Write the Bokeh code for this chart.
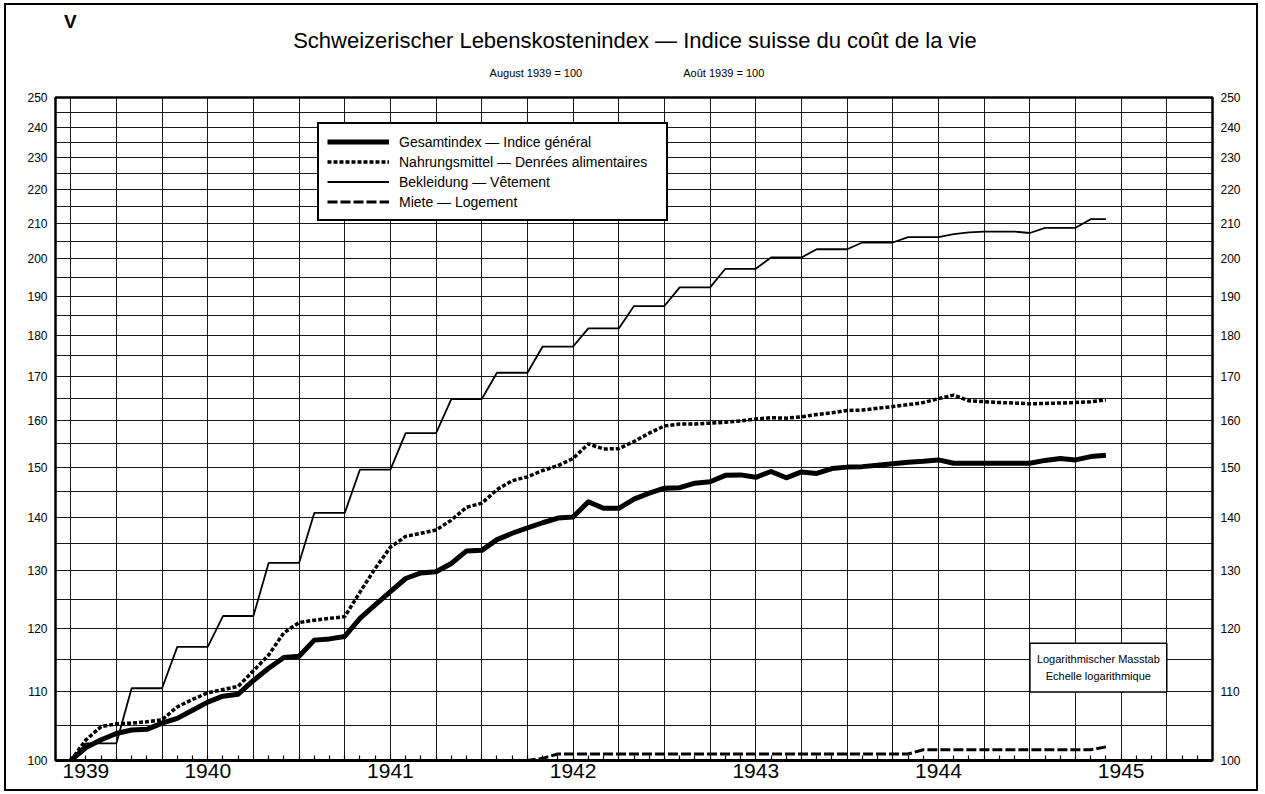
from bokeh.plotting import figure
from bokeh.layouts import column
from bokeh.models import (Range1d, FixedTicker, LogAxis, Legend, LegendItem, Label,
                          PrintfTickFormatter, ColumnDataSource)
from bokeh.core.properties import value
from bokeh.embed import file_html
from bokeh.resources import INLINE

# ---------------- data (monthly, August 1939 = 100) ----------------
months = [f"{1939 + (7 + i) // 12}-{(7 + i) % 12 + 1:02d}" for i in range(69)]  # 1939-08 .. 1945-04

gesamt = [100.0, 101.8, 102.9, 103.8, 104.3, 104.4, 105.3, 106.0, 107.2, 108.4,
          109.3, 109.6, 111.7, 113.6, 115.3, 115.5, 118.1, 118.3, 118.7, 121.7,
          124.0, 126.3, 128.6, 129.6, 129.8, 131.3, 133.6, 133.7, 135.7, 136.9,
          137.9, 138.9, 139.8, 140.0, 143.0, 141.7, 141.7, 143.5, 144.7, 145.7,
          145.8, 146.7, 147.0, 148.3, 148.4, 147.9, 149.1, 147.8, 149.0, 148.7,
          149.7, 150.0, 150.1, 150.4, 150.7, 151.0, 151.2, 151.5, 150.8, 150.8,
          150.8, 150.8, 150.8, 150.8, 151.4, 151.8, 151.5, 152.2, 152.5]

nahrung = [100.0, 102.9, 104.8, 105.2, 105.3, 105.5, 105.8, 107.7, 108.8, 109.8,
           110.3, 110.8, 113.2, 115.7, 119.3, 121.0, 121.4, 121.7, 122.0, 126.2,
           130.4, 134.3, 136.3, 136.9, 137.5, 139.4, 141.9, 142.7, 145.4, 147.2,
           148.0, 149.3, 150.3, 151.8, 154.9, 153.8, 153.9, 155.4, 157.2, 158.8,
           159.2, 159.2, 159.4, 159.6, 159.9, 160.3, 160.6, 160.5, 160.8, 161.3,
           161.7, 162.2, 162.3, 162.7, 163.1, 163.5, 164.0, 164.9, 165.7, 164.4,
           164.2, 164.0, 163.9, 163.7, 163.8, 163.9, 164.0, 164.2, 164.6]

bekleidung = [100.0, 102.4, 102.4, 102.4, 110.5, 110.5, 110.5, 117.0, 117.0, 117.0,
              122.1, 122.1, 122.1, 131.4, 131.4, 131.4, 140.8, 140.8, 140.8, 149.5,
              149.5, 149.5, 157.2, 157.2, 157.2, 164.8, 164.8, 164.8, 170.9, 170.9,
              170.9, 177.2, 177.2, 177.2, 181.7, 181.7, 181.7, 187.4, 187.4, 187.4,
              192.3, 192.3, 192.3, 197.3, 197.3, 197.3, 200.4, 200.4, 200.4, 202.7,
              202.7, 202.7, 204.6, 204.6, 204.6, 206.1, 206.1, 206.1, 207.0, 207.5,
              207.7, 207.7, 207.7, 207.3, 208.8, 208.8, 208.8, 211.3, 211.3]

miete = [100.0] * 31 + [100.3] + [100.9] * 24 + [101.5] * 12 + [101.9]

year_labels = ["1939", "1940", "1941", "1942", "1943", "1944", "1945"]
year_label_pos = [1, 9, 21, 33, 45, 57, 69]
y_tick_values = list(range(100, 251, 10))

series_names = ["Gesamtindex — Indice général",
                "Nahrungsmittel — Denrées alimentaires",
                "Bekleidung — Vêtement",
                "Miete — Logement"]

title_text = "Schweizerischer Lebenskostenindex — Indice suisse du coût de la vie"
subtitle_de = "August 1939 = 100"
subtitle_fr = "Août 1939 = 100"
chart_number = "V"
scale_note = "Logarithmischer Masstab\nEchelle logarithmique"

FONT = "Liberation Sans"
W = 1250

# ---------------- header (title block) ----------------
HH = 80
header = figure(width=W, height=HH, x_range=Range1d(0, W), y_range=Range1d(HH, 0),
                x_axis_type=None, y_axis_type=None, output_backend="svg",
                toolbar_location=None, min_border=0, outline_line_color=None,
                background_fill_color="white", border_fill_color="white")
header.grid.visible = False
header.text(x=[626], y=[35], text=[title_text], text_font=value(FONT),
            text_font_size="22px", text_align="center", text_baseline="middle",
            text_color="black")
header.text(x=[16], y=[16], text=[chart_number], text_font=value(FONT),
            text_font_size="19px", text_font_style="bold", text_align="center",
            text_baseline="middle", text_color="black")
header.text(x=[519, 722], y=[67, 67], text=[subtitle_de, subtitle_fr], text_font=value(FONT),
            text_font_size="11px", text_align="center", text_baseline="middle",
            text_color="black")

# ---------------- main chart ----------------
x = list(range(len(months)))
src = ColumnDataSource(dict(x=x, month=months, gesamt=gesamt, nahrung=nahrung,
                            bekleidung=bekleidung, miete=miete))

p = figure(width=W, height=704, x_range=Range1d(-1, 75), y_range=Range1d(100, 250),
           y_axis_type="log", output_backend="svg", toolbar_location=None,
           min_border_left=49, min_border_right=44, min_border_top=12, min_border_bottom=29,
           background_fill_color="white", border_fill_color="white")
p.outline_line_color = "black"
p.outline_line_width = 2.5

# grids
p.xgrid.ticker = FixedTicker(ticks=list(range(0, 73, 3)))
p.ygrid.ticker = FixedTicker(ticks=list(range(105, 250, 5)))
for g in (p.xgrid, p.ygrid):
    g.grid_line_color = "black"
    g.grid_line_width = 1
    g.grid_line_alpha = 0.9

# x axis: year labels + monthly ticks
xa = p.xaxis[0]
xa.ticker = FixedTicker(ticks=year_label_pos, minor_ticks=list(range(0, 75)))
xa.major_label_overrides = {pos: lab for pos, lab in zip(year_label_pos, year_labels)}
xa.major_tick_in = 0
xa.major_tick_out = 0
xa.minor_tick_in = 5
xa.minor_tick_out = 0
xa.minor_tick_line_width = 1.2
xa.axis_line_width = 3
xa.major_label_text_font = FONT
xa.major_label_text_font_size = "21px"
xa.major_label_text_color = "black"
xa.major_label_standoff = 3

# y axes (left and right)
ya = p.yaxis[0]
ra = LogAxis()
p.add_layout(ra, "right")
for ax in (ya, ra):
    ax.ticker = FixedTicker(ticks=y_tick_values)
    ax.formatter = PrintfTickFormatter(format="%d")
    ax.major_tick_in = 0
    ax.major_tick_out = 0
    ax.minor_tick_in = 0
    ax.minor_tick_out = 0
    ax.axis_line_color = None
    ax.major_label_text_font = FONT
    ax.major_label_text_font_size = "12px"
    ax.major_label_text_color = "black"
    ax.major_label_standoff = 8

# series
r_m = p.line("x", "miete", source=src, line_color="black", line_width=3, line_dash="10 3")
r_b = p.line("x", "bekleidung", source=src, line_color="black", line_width=1.8)
r_n = p.line("x", "nahrung", source=src, line_color="black", line_width=3.5, line_dash="4 2")
r_g = p.line("x", "gesamt", source=src, line_color="black", line_width=5, line_join="round")

legend = Legend(items=[LegendItem(label=series_names[0], renderers=[r_g]),
                       LegendItem(label=series_names[1], renderers=[r_n]),
                       LegendItem(label=series_names[2], renderers=[r_b]),
                       LegendItem(label=series_names[3], renderers=[r_m])],
                location=(262, 539), padding=8, spacing=1, margin=0,
                glyph_width=62, glyph_height=19, label_height=19, label_width=259,
                label_standoff=10, label_text_font=FONT, label_text_font_size="14px",
                label_text_color="black",
                border_line_color="black", border_line_width=2, border_line_alpha=1,
                background_fill_color="white", background_fill_alpha=1)
p.add_layout(legend, "center")

# log-scale note box
p.add_layout(Label(x=67.5, y=113.7, text=scale_note,
                   text_align="center", text_baseline="middle", text_font=FONT,
                   text_font_size="11px", text_line_height=1.4, padding=(7, 10),
                   text_color="black",
                   background_fill_color="white", border_line_color="black",
                   border_line_width=1.5, border_line_alpha=1))

layout = column(header, p, spacing=0)
layout.styles = {"border": "2px solid black", "margin": "3px 0 0 4px"}

open("out.html", "w").write(file_html(layout, INLINE))
